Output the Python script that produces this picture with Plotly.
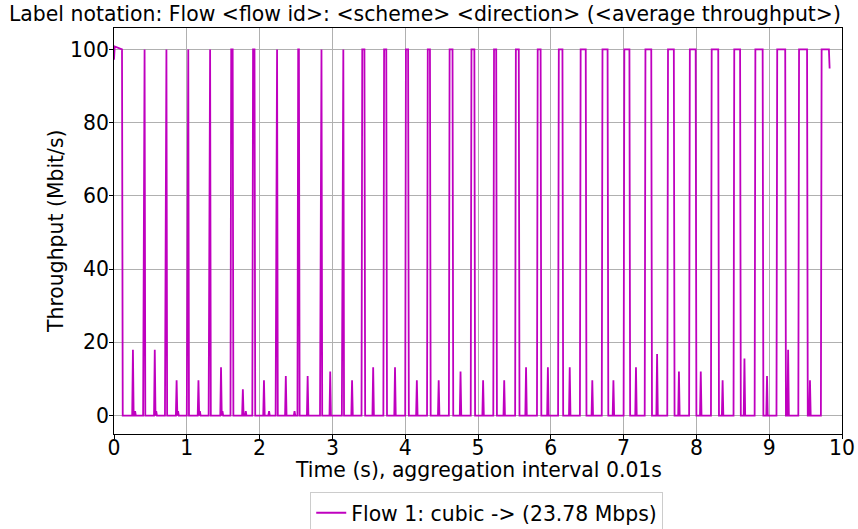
import plotly.graph_objects as go

# ---- data (time in s, throughput in Mbit/s) ----
# opening burst of the flow
head_t = [0.00, 0.01, 0.11, 0.12]
head_v = [97.2, 100.8, 100.0, 0.0]

# full-rate bursts: last zero sample before the rise, first zero sample after the fall
burst_up = [0.40, 0.70, 1.00, 1.30, 1.60, 1.90, 2.22, 2.52, 2.83, 3.13,
            3.40, 3.70, 4.00, 4.30, 4.60, 4.90, 5.21, 5.51, 5.81, 6.10,
            6.40, 6.70, 7.00, 7.29, 7.60, 7.90, 8.20, 8.51, 8.80, 9.10,
            9.40]
burst_down = [0.43, 0.73, 1.03, 1.33, 1.64, 1.94, 2.25, 2.55, 2.86, 3.16,
              3.45, 3.75, 4.05, 4.35, 4.66, 4.96, 5.26, 5.57, 5.87, 6.17,
              6.49, 6.79, 7.09, 7.39, 7.70, 8.00, 8.31, 8.61, 8.92, 9.23,
              9.53]
burst_level = 100.0

# small spikes between the bursts
spike_t = [0.26, 0.56, 0.86, 1.16, 1.47, 1.77, 2.06, 2.36, 2.66, 2.97,
           3.27, 3.56, 3.86, 4.16, 4.46, 4.76, 5.07, 5.36, 5.66, 5.96,
           6.26, 6.57, 6.86, 7.17, 7.46, 7.76, 8.06, 8.36, 8.66, 8.97,
           9.26, 9.56]
spike_v = [18.0, 18.0, 9.6, 9.6, 13.2, 7.2, 9.6, 10.8, 10.8, 12.0,
           9.6, 13.2, 13.2, 9.6, 9.6, 12.0, 9.6, 9.6, 13.2, 13.2,
           13.2, 9.6, 9.6, 13.2, 16.8, 12.0, 12.0, 9.6, 15.6, 10.8,
           18.0, 9.6]

# one-packet blips right after the early spikes
blip_t = [0.29, 0.58, 0.88, 1.18, 1.49, 1.81, 2.13, 2.48]
blip_v = [1.2, 1.2, 1.2, 1.2, 1.2, 1.2, 1.2, 1.2]

# last burst, still running when the capture ends
tail_t = [9.71, 9.72, 9.82, 9.83]
tail_v = [0.0, 100.0, 100.0, 94.8]

LABEL = "Flow 1: cubic -> (23.78 Mbps)"
TITLE = "Label notation: Flow <flow id>: <scheme> <direction> (<average throughput>)"

# ---- assemble the polyline (0.01 s samples, zeros elsewhere) ----
pts = {}
for t, v in zip(head_t, head_v):
    pts[round(t, 2)] = v
for up, down in zip(burst_up, burst_down):
    pts[round(up, 2)] = 0.0
    pts[round(up + 0.01, 2)] = burst_level
    pts[round(down - 0.01, 2)] = burst_level
    pts[round(down, 2)] = 0.0
for t, v in list(zip(spike_t, spike_v)) + list(zip(blip_t, blip_v)):
    pts.setdefault(round(t - 0.01, 2), 0.0)
    pts[round(t, 2)] = v
    pts.setdefault(round(t + 0.01, 2), 0.0)
for t, v in zip(tail_t, tail_v):
    pts[round(t, 2)] = v

xs = sorted(pts)
ys = [pts[t] for t in xs]

FONT = "DejaVu Sans"
FS = 20.4

fig = go.Figure()
fig.add_trace(go.Scatter(
    x=xs, y=ys, mode="lines", name=LABEL,
    line=dict(color="#bf00bf", width=1.8),
))

fig.update_layout(
    width=858, height=529,
    margin=dict(l=114, r=16, t=28, b=95, autoexpand=False),
    plot_bgcolor="white", paper_bgcolor="white",
    font=dict(family=FONT, size=FS, color="black"),
    showlegend=True,
    legend=dict(
        x=0.512, xanchor="center", xref="paper",
        y=1 - 492 / 529, yanchor="top", yref="container",
        orientation="h", bordercolor="#cccccc", borderwidth=1,
        bgcolor="white", font=dict(family=FONT, size=FS),
    ),
    annotations=[
        dict(text=TITLE, xref="paper", yref="paper", x=0.427, y=1,
             yshift=14, xanchor="center", yanchor="middle",
             showarrow=False, font=dict(family=FONT, size=FS)),
        dict(text="Time (s), aggregation interval 0.01s", xref="paper",
             yref="paper", x=0.5, y=0, yshift=-36, xanchor="center",
             yanchor="middle", showarrow=False, font=dict(family=FONT, size=FS)),
        dict(text="Throughput (Mbit/s)", xref="paper", yref="paper",
             x=0, y=0.5, xshift=-58, textangle=-90, xanchor="center",
             yanchor="middle", showarrow=False, font=dict(family=FONT, size=FS)),
    ],
)

axis_style = dict(
    showgrid=True, gridcolor="#b0b0b0", gridwidth=1,
    showline=True, linecolor="black", linewidth=1.1, mirror=True,
    ticks="outside", ticklen=4, tickcolor="black", tickwidth=1.1,
    zeroline=False, automargin=False,
    tickfont=dict(family=FONT, size=FS),
)
fig.update_xaxes(range=[0, 10], tickmode="linear", tick0=0, dtick=1,
                 ticklabelstandoff=-9, **axis_style)
fig.update_yaxes(range=[-5.04, 105.84], tickmode="linear", tick0=0, dtick=20,
                 ticklabelstandoff=-4, **axis_style)

# page body has a default 8px margin; drop it so the 858x529 figure fills the window
fig.write_html("out.html", config={"displayModeBar": False},
               post_script="document.body.style.margin='0';")
